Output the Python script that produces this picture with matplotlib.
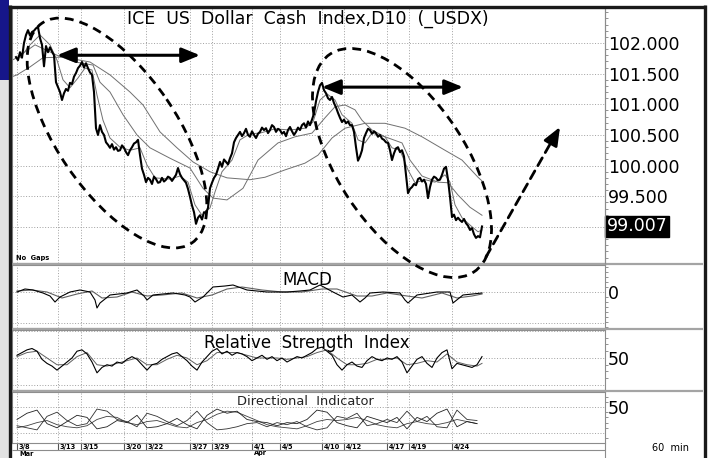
import numpy as np
import matplotlib
matplotlib.use("Agg")
import matplotlib.pyplot as plt
from matplotlib.patches import Ellipse, Rectangle
from matplotlib.lines import Line2D
from matplotlib.ticker import MultipleLocator
from matplotlib.transforms import Affine2D, blended_transform_factory, ScaledTranslation

plt.rcParams['font.family'] = ['DejaVu Sans']

# ---------------- data ----------------
tick_labels = ['3/8', '3/13', '3/15', '3/20', '3/22', '3/27', '3/29',
               '4/1', '4/5', '4/10', '4/12', '4/17', '4/19', '4/24']
tick_bars = [0, 82, 128, 214, 258, 346, 390, 470, 526, 610, 654, 740, 784, 870]
month_labels = ['Mar', 'Apr']
month_bars = [0, 470]

price_levels = [99.0, 99.5, 100.0, 100.5, 101.0, 101.5, 102.0]
last_price = 99.007

# hourly closes, sampled every 4 bars starting at bar -2
close_start, close_step = -2, 4
close = [101.77, 101.72, 101.85, 101.76, 102.00, 102.13, 102.21, 102.12, 102.18, 102.20,
         102.24, 102.26, 102.08, 101.97, 101.62, 101.95, 101.85, 101.93, 101.86, 101.80,
         101.36, 101.28, 101.20, 101.07, 101.18, 101.25, 101.22, 101.35, 101.33, 101.45,
         101.51, 101.59, 101.63, 101.69, 101.60, 101.67, 101.59, 101.52, 101.48, 101.20,
         100.61, 100.50, 100.66, 100.55, 100.50, 100.38, 100.34, 100.29, 100.35, 100.26,
         100.30, 100.24, 100.25, 100.33, 100.29, 100.22, 100.17, 100.25, 100.30, 100.36,
         100.38, 100.42, 100.17, 99.95, 99.85, 99.73, 99.80, 99.77, 99.70, 99.82,
         99.78, 99.72, 99.73, 99.80, 99.74, 99.77, 99.82, 99.80, 99.75, 99.80,
         99.85, 99.96, 99.86, 99.80, 99.76, 99.72, 99.62, 99.49, 99.35, 99.24,
         99.05, 99.15, 99.19, 99.12, 99.24, 99.23, 99.31, 99.63, 99.72, 99.80,
         99.85, 99.95, 100.06, 99.98, 100.10, 100.06, 100.02, 100.12, 100.20, 100.38,
         100.45, 100.50, 100.55, 100.48, 100.53, 100.60, 100.50, 100.47, 100.56, 100.50,
         100.45, 100.52, 100.55, 100.62, 100.58, 100.61, 100.53, 100.58, 100.66, 100.63,
         100.55, 100.60, 100.58, 100.52, 100.55, 100.48, 100.58, 100.63, 100.56, 100.50,
         100.55, 100.62, 100.58, 100.66, 100.69, 100.62, 100.72, 100.66, 100.75, 100.85,
         101.05, 101.20, 101.31, 101.35, 101.23, 101.18, 101.10, 101.07, 101.12, 101.02,
         100.95, 100.86, 100.78, 100.71, 100.75, 100.69, 100.72, 100.66, 100.66, 100.55,
         100.30, 100.08, 100.15, 100.25, 100.45, 100.53, 100.60, 100.58, 100.52, 100.56,
         100.53, 100.47, 100.50, 100.44, 100.42, 100.38, 100.37, 100.25, 100.09, 100.20,
         100.28, 100.30, 100.22, 100.25, 100.15, 99.85, 99.55, 99.62, 99.65, 99.70,
         99.68, 99.78, 99.80, 99.74, 99.77, 99.70, 99.47, 99.65, 99.77, 99.82,
         99.80, 99.76, 99.77, 99.85, 99.95, 99.98, 99.77, 99.49, 99.16, 99.20,
         99.11, 99.15, 99.11, 99.08, 99.13, 99.06, 99.02, 98.95, 98.98, 98.88,
         98.82, 98.85, 98.83, 99.007]

ma_short_bars = [6, 26, 46, 66, 80, 92, 106, 122, 136, 150,
                 160, 172, 186, 206, 226, 246, 260, 276, 306, 326,
                 342, 356, 370, 386, 396, 410, 430, 446, 466, 486,
                 516, 546, 576, 592, 606, 620, 636, 650, 670, 682,
                 696, 710, 736, 750, 766, 782, 796, 816, 836, 856,
                 866, 876, 890, 906, 922, 930]
ma_short = [101.76, 101.97, 102.13, 101.97, 101.72, 101.40, 101.27, 101.43, 101.59, 101.56,
            101.15, 100.74, 100.45, 100.30, 100.25, 100.29, 100.01, 99.80, 99.78, 99.83,
            99.73, 99.36, 99.19, 99.31, 99.57, 99.90, 100.09, 100.42, 100.52, 100.53,
            100.60, 100.58, 100.61, 100.71, 101.07, 101.17, 101.07, 100.83, 100.69, 100.42,
            100.37, 100.53, 100.47, 100.29, 100.25, 99.93, 99.72, 99.77, 99.73, 99.85,
            99.73, 99.36, 99.15, 99.03, 98.92, 98.95]

ma_mid_bars = [-10, 0, 36, 80, 116, 152, 166, 186, 212, 240,
               266, 306, 346, 372, 392, 420, 452, 482, 522, 556,
               590, 616, 636, 656, 676, 690, 710, 736, 770, 786,
               810, 842, 862, 882, 906, 930]
ma_mid = [101.72, 101.76, 101.97, 101.80, 101.69, 101.64, 101.36, 101.20, 100.83, 100.50,
          100.29, 100.12, 99.96, 99.63, 99.47, 99.44, 99.63, 100.09, 100.37, 100.47,
          100.53, 100.78, 100.96, 100.99, 100.91, 100.74, 100.58, 100.47, 100.37, 100.09,
          99.83, 99.73, 99.72, 99.52, 99.32, 99.19]

ma_long_bars = [-10, 0, 26, 52, 92, 146, 186, 226, 252, 286,
                320, 352, 386, 420, 466, 496, 536, 576, 602, 630,
                656, 696, 736, 776, 810, 856, 890, 922, 930]
ma_long = [101.45, 101.48, 101.61, 101.76, 101.77, 101.69, 101.48, 101.20, 100.99, 100.55,
           100.29, 100.06, 99.90, 99.80, 99.77, 99.81, 99.93, 100.04, 100.17, 100.45,
           100.61, 100.69, 100.69, 100.61, 100.47, 100.25, 100.09, 99.81, 99.75]

macd_bars = [0, 16, 32, 52, 66, 76, 86, 106, 126, 146,
             156, 160, 166, 186, 220, 240, 254, 260, 272, 312,
             336, 346, 356, 372, 392, 416, 432, 460, 500, 540,
             566, 586, 606, 632, 652, 670, 686, 696, 706, 732,
             766, 776, 782, 800, 840, 866, 872, 892, 930]
macd = [0.00, 0.03, 0.02, -0.01, -0.04, -0.10, -0.05, 0.00, 0.02, 0.00,
        -0.08, -0.16, -0.11, -0.03, -0.01, 0.02, -0.04, -0.08, -0.03, -0.01,
        -0.03, -0.05, -0.10, -0.05, 0.05, 0.06, 0.07, 0.02, 0.00, 0.00,
        0.01, 0.02, 0.07, 0.00, -0.05, -0.03, -0.10, -0.06, -0.01, 0.00,
        -0.01, -0.08, -0.11, -0.03, 0.00, 0.00, -0.11, -0.03, -0.01]
signal_bars = [0, 30, 60, 90, 120, 150, 170, 200, 230, 260,
               290, 330, 360, 390, 420, 450, 490, 530, 570, 610,
               640, 680, 710, 740, 780, 810, 850, 880, 910, 930]
signal = [0.01, 0.02, 0.00, -0.06, -0.02, 0.01, -0.06, -0.05, 0.00, -0.04,
          -0.03, -0.01, -0.06, -0.03, 0.03, 0.05, 0.02, 0.00, 0.00, 0.03,
          0.03, -0.04, -0.04, -0.01, -0.04, -0.06, -0.01, -0.06, -0.04, -0.02]
macd_levels = [-0.31, 0.0]

rsi_step = 10
rsi = [52, 54, 56, 57, 55, 49, 46, 44, 41, 44,
       47, 50, 55, 56, 53, 47, 39, 43, 45, 44,
       47, 46, 49, 51, 49, 45, 41, 45, 46, 49,
       51, 53, 54, 51, 48, 44, 41, 47, 51, 55,
       57, 53, 55, 52, 54, 53, 51, 48, 50, 52,
       49, 51, 48, 50, 47, 49, 51, 50, 52, 54,
       57, 58, 55, 52, 45, 41, 45, 47, 44, 43,
       48, 51, 49, 48, 50, 49, 51, 47, 39, 44,
       49, 51, 46, 43, 50, 54, 56, 42, 46, 45,
       44, 43, 45, 51]
rsi2_bars = [0, 20, 40, 60, 80, 100, 120, 140, 160, 180,
             200, 220, 240, 260, 280, 300, 320, 340, 360, 380,
             400, 420, 440, 460, 480, 500, 520, 540, 560, 580,
             600, 620, 640, 660, 680, 700, 720, 740, 760, 780,
             800, 820, 840, 860, 880, 900, 920, 930]
rsi2 = [51, 54, 55, 50, 45, 45, 51, 54, 45, 44,
        46, 48, 50, 45, 45, 49, 52, 50, 45, 48,
        54, 54, 54, 52, 50, 50, 50, 49, 50, 51,
        54, 56, 50, 45, 45, 46, 49, 49, 50, 45,
        46, 48, 47, 53, 47, 45, 44, 46]
rsi_levels = [30, 50, 70]

di_step = 20
plus_di = [38, 44, 47, 34, 30, 36, 42, 40, 29, 31, 37, 35, 42, 30, 31, 34, 39, 33, 29, 42,
           48, 44, 46, 38, 36, 35, 32, 35, 34, 38, 47, 45, 35, 32, 30, 41, 38, 35, 40, 29,
           40, 36, 44, 48, 31, 36, 34]
minus_di = [32, 30, 28, 41, 45, 37, 32, 34, 48, 46, 38, 36, 31, 44, 41, 36, 32, 37, 46, 35,
            28, 29, 31, 34, 35, 31, 35, 33, 36, 31, 28, 30, 41, 39, 44, 32, 34, 38, 35, 46,
            36, 41, 31, 30, 47, 38, 37]
adx = [30, 32, 35, 37, 33, 31, 30, 32, 38, 41, 40, 35, 33, 36, 37, 34, 31, 30, 35, 38,
       43, 46, 45, 41, 37, 33, 31, 30, 29, 32, 36, 38, 37, 38, 40, 37, 33, 31, 30, 34,
       36, 34, 33, 35, 38, 36, 34]
di_levels = [25, 50]

# ---------------- figure ----------------
W, H = 711, 458
fig = plt.figure(figsize=(W / 100, H / 100), dpi=100)
fig.patch.set_facecolor('white')
pix = Affine2D().scale(1, -1).translate(0, H)   # pixel coords, origin top-left


def rect(l, t, r, b):
    return [l / W, 1 - b / H, (r - l) / W, (b - t) / H]


ax = fig.add_axes(rect(12, 8, 605, 263))
ax_m = fig.add_axes(rect(12, 265, 605, 328))
ax_r = fig.add_axes(rect(12, 330, 605, 390))
ax_d = fig.add_axes(rect(12, 392, 605, 443))
axes = [ax, ax_m, ax_r, ax_d]

GRID = dict(color='#a0a0a0', linestyle=(0, (1, 1.8)), linewidth=0.7)
for a in axes:
    a.set_facecolor('white')
    a.set_xlim(-10, 1176)
    a.set_xticks(tick_bars)
    a.grid(True, **GRID)
    a.set_axisbelow(True)
    a.tick_params(axis='x', length=0, labelbottom=False)
    for s in a.spines.values():
        s.set_color('#8c8c8c')
        s.set_linewidth(0.8)
    a.yaxis.tick_right()
    a.tick_params(axis='y', which='major', length=0, pad=2, labelsize=12.5)
    a.tick_params(axis='y', which='minor', left=True, right=True, length=2,
                  width=0.6, color='#808080')

# ---- main price panel ----
bars = close_start + close_step * np.arange(len(close))
ax.plot(ma_long_bars, ma_long, color='#707070', lw=0.7)
ax.plot(ma_mid_bars, ma_mid, color='#707070', lw=0.7)
ax.plot(ma_short_bars, ma_short, color='#707070', lw=0.7)
ax.plot(bars, close, color='black', lw=1.5)
ax.set_ylim(98.411, 102.571)
ax.set_yticks(price_levels)
ax.set_yticklabels(['' if v == 99.0 else f'{v:.3f}' for v in price_levels])
ax.yaxis.set_minor_locator(MultipleLocator(0.1))
ytr = blended_transform_factory(ax.transAxes, ax.transData)
ax.text(1.0 + 1.5 / 593, last_price, f'{last_price:.3f}', transform=ytr, ha='left',
        va='center', color='white', fontsize=12.5,
        bbox=dict(facecolor='black', edgecolor='black', pad=1.2), clip_on=False)
ax.text(0.499, 0.958, 'ICE  US  Dollar  Cash  Index,D10  (_USDX)', transform=ax.transAxes,
        ha='center', va='center', fontsize=12.5)
ax.text(0.007, 0.02, 'No  Gaps', transform=ax.transAxes, ha='left', va='center',
        fontsize=4.8, fontweight='bold')

# annotations: arrows
arr = dict(arrowstyle='<|-|>,head_length=1.1,head_width=0.45', color='black', lw=2.2,
           mutation_scale=10, shrinkA=0, shrinkB=0)
ax.annotate('', xy=(80, 101.80), xytext=(366, 101.80), arrowprops=arr)
ax.annotate('', xy=(610, 101.28), xytext=(892, 101.28), arrowprops=arr)
ax.annotate('', xy=(1080, 100.55), xytext=(938, 98.51),
            arrowprops=dict(arrowstyle='-', color='black', lw=2, linestyle=(0, (3.2, 2.2)),
                            shrinkA=0, shrinkB=0))
ax.annotate('', xy=(1086, 100.63), xytext=(1070, 100.40),
            arrowprops=dict(arrowstyle='-|>,head_length=1.1,head_width=0.45', color='black',
                            lw=2, mutation_scale=10, shrinkA=0, shrinkB=0))

# ---- MACD ----
ax_m.plot(signal_bars, signal, color='#606060', lw=0.8)
ax_m.plot(macd_bars, macd, color='black', lw=0.8)
ax_m.set_ylim(-0.36, 0.27)
ax_m.set_yticks(macd_levels)
ax_m.set_yticklabels(['', '0'])
ax_m.yaxis.set_minor_locator(MultipleLocator(0.05))
ax_m.text(0.498, 0.76, 'MACD', transform=ax_m.transAxes, ha='center', va='center',
          fontsize=12)

# ---- RSI ----
ax_r.plot(rsi2_bars, rsi2, color='#606060', lw=0.7)
ax_r.plot(np.arange(len(rsi)) * rsi_step, rsi, color='black', lw=0.8)
ax_r.set_ylim(26.3, 70.7)
ax_r.set_yticks(rsi_levels)
ax_r.set_yticklabels(['', '50', ''])
ax_r.yaxis.set_minor_locator(MultipleLocator(5))
ax_r.text(0.497, 0.78, 'Relative  Strength  Index', transform=ax_r.transAxes,
          ha='center', va='center', fontsize=12)

# ---- Directional indicator ----
di_bars = np.arange(len(adx)) * di_step
ax_d.plot(di_bars, adx, color='#404040', lw=0.6)
ax_d.plot(di_bars, plus_di, color='#202020', lw=0.6)
ax_d.plot(di_bars, minus_di, color='#303030', lw=0.6)
ax_d.set_ylim(15.4, 64.4)
ax_d.set_yticks(di_levels)
ax_d.set_yticklabels(['', '50'])
ax_d.yaxis.set_minor_locator(MultipleLocator(5))
ax_d.text(0.495, 0.82, 'Directional  Indicator', transform=ax_d.transAxes,
          ha='center', va='center', fontsize=9.4, color='#222222')
ax_d.tick_params(axis='x', which='major', length=5, width=0.8, color='#555555',
                 direction='out', bottom=True)

# date labels
lab_tr = blended_transform_factory(ax_d.transData, fig.transFigure) + \
    ScaledTranslation(2 / 100, 0, fig.dpi_scale_trans)
for b, s in zip(tick_bars, tick_labels):
    ax_d.text(b, 1 - 443.5 / H, s, transform=lab_tr, ha='left', va='top', fontsize=4.8,
              fontweight='bold', clip_on=False)
for b, s in zip(month_bars, month_labels):
    ax_d.text(b, 1 - 450.5 / H, s, transform=lab_tr, ha='left', va='top', fontsize=4.8,
              fontweight='bold', clip_on=False)
fig.text(670 / W, 1 - 448 / H, '60  min', ha='center', va='center', fontsize=7)

# ---- frame decorations (pixel space) ----
def pline(x0, y0, x1, y1, color, lw, z=5):
    fig.add_artist(Line2D([x0, x1], [y0, y1], transform=pix, color=color, lw=lw,
                          zorder=z, solid_capstyle='butt'))

fig.add_artist(Rectangle((0, 80), 8.5, 378, transform=pix, facecolor='#e2e2e2',
                         edgecolor='none', zorder=4))
fig.add_artist(Rectangle((0, 0), 8.5, 80, transform=pix, facecolor='#16168a',
                         edgecolor='none', zorder=4))
for yy in (264, 329, 391):
    pline(11, yy, 703, yy, '#a4a4a4', 1.6)
pline(12, 450, 605, 450, '#8c8c8c', 0.8)
pline(605, 443, 605, 458, '#8c8c8c', 0.8)
pline(605, 8, 605, 264, '#8c8c8c', 0.8)
pline(9.5, 5, 9.5, 458, '#1a1a1a', 2.4)
pline(8, 6.5, 706, 6.5, '#1a1a1a', 2.4)
pline(704.5, 5, 704.5, 458, '#1a1a1a', 2.4)

# dashed ellipses
for (cx, cy, a_, b_, ang) in [(117, 133, 266, 120, 55.7), (402, 163, 261, 128, 56.6)]:
    fig.add_artist(Ellipse((cx, cy), a_, b_, angle=ang, transform=pix, fill=False,
                           edgecolor='black', lw=2, linestyle=(0, (3.2, 2.2)), zorder=6))

fig.savefig('out.png', dpi=100)
